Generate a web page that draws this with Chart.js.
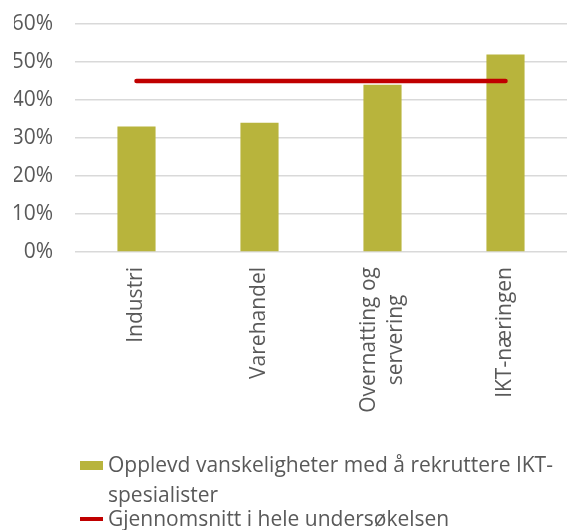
<!DOCTYPE html>
<html lang="no">
<head>
<meta charset="utf-8">
<title>Rekruttering av IKT-spesialister</title>
<script src="https://cdn.jsdelivr.net/npm/chart.js@4.4.1/dist/chart.umd.min.js"></script>
<style>
  body { margin: 0; background: #fff; }
  #wrap { position: relative; width: 567px; height: 530px; overflow: hidden; }
  #chart { position: absolute; left: 0; top: 0; }
  .legend { position: absolute; left: 108px; color: #595959; font-family: "Open Sans", sans-serif; font-size: 21px; white-space: nowrap; }
  .swatch { position: absolute; left: 80px; width: 23px; }
</style>
</head>
<body>
<div id="wrap">
  <canvas id="chart" width="567" height="530"></canvas>
  <div class="swatch" style="top:461px;height:9px;background:#b8b43c"></div>
  <div class="legend" id="legBar" style="top:449px;line-height:30px"></div>
  <div class="swatch" style="top:517px;height:4px;background:#c00000"></div>
  <div class="legend" id="legLine" style="top:506px;line-height:24px"></div>
</div>
<script>
const categories = ["Industri", "Varehandel", ["Overnatting og", "servering"], "IKT-næringen"];
const difficultyPct = [33, 34, 44, 52];
const surveyAvgPct = [45, 45, 45, 45];
const yTicks = [0, 10, 20, 30, 40, 50, 60];

const barLabel = ["Opplevd vanskeligheter med å rekruttere IKT-", "spesialister"];
const lineLabel = "Gjennomsnitt i hele undersøkelsen";

const FONT = "\"Open Sans\", sans-serif";
const TEXT = "#595959";

document.getElementById("legBar").innerHTML = barLabel.join("<br>");
document.getElementById("legLine").textContent = lineLabel;

// rotated category labels, lines centred on each other
const xLabels = {
  id: "xLabels",
  afterDraw(chart) {
    const ctx = chart.ctx;
    const xs = chart.scales.x;
    const top = chart.chartArea.bottom + 15;
    const lh = 27;
    ctx.save();
    ctx.font = "21px " + FONT;
    ctx.fillStyle = TEXT;
    ctx.textAlign = "center";
    ctx.textBaseline = "middle";
    categories.forEach((c, i) => {
      const lines = Array.isArray(c) ? c : [c];
      const w = Math.max(...lines.map(l => ctx.measureText(l).width));
      ctx.save();
      ctx.translate(xs.getPixelForValue(i), top);
      ctx.rotate(-Math.PI / 2);
      lines.forEach((l, k) => {
        ctx.fillText(l, -w / 2, (k - (lines.length - 1) / 2) * lh);
      });
      ctx.restore();
    });
    ctx.restore();
  }
};

new Chart(document.getElementById("chart"), {
  data: {
    labels: categories.map(c => Array.isArray(c) ? c.join(" ") : c),
    datasets: [
      {
        type: "line",
        label: lineLabel,
        data: surveyAvgPct,
        borderColor: "#c00000",
        borderWidth: 4.5,
        borderCapStyle: "round",
        pointRadius: 0,
        order: 0
      },
      {
        type: "bar",
        label: barLabel.join(""),
        data: difficultyPct,
        backgroundColor: "#b8b43c",
        categoryPercentage: 1,
        barPercentage: 0.31,
        order: 1
      }
    ]
  },
  options: {
    responsive: false,
    animation: false,
    layout: { padding: { left: 14, right: 0, top: 24, bottom: 278 } },
    plugins: { legend: { display: false }, tooltip: { enabled: false } },
    scales: {
      x: {
        grid: { display: false },
        border: { display: false },
        ticks: { display: false },
        afterFit: s => { s.height = 0; s.paddingLeft = 0; s.paddingRight = 0; }
      },
      y: {
        min: 0,
        max: 60,
        afterBuildTicks: s => { s.ticks = yTicks.map(v => ({ value: v })); },
        afterFit: s => { s.width = 61; s.paddingTop = 0; s.paddingBottom = 0; },
        grid: { color: "#d9d9d9", lineWidth: 1.5, drawTicks: false },
        border: { display: false },
        ticks: {
          padding: 22,
          color: TEXT,
          font: { family: FONT, size: 21 },
          callback: v => v + "%"
        }
      }
    }
  },
  plugins: [xLabels]
});
</script>
</body>
</html>
